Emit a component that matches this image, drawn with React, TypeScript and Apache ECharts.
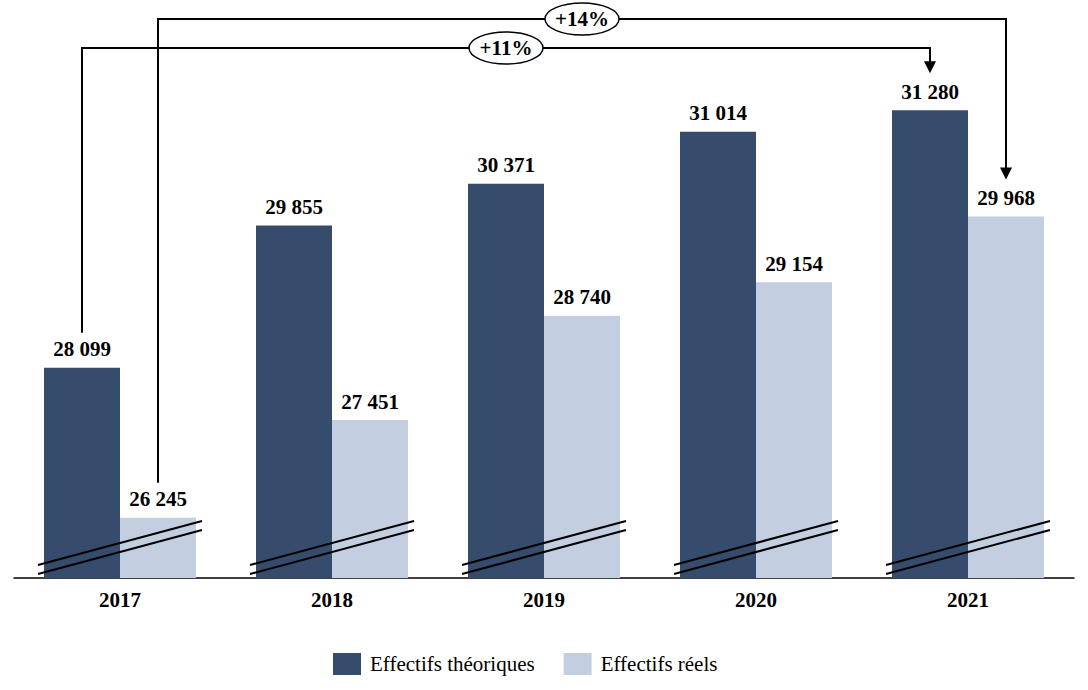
import React, { useEffect, useRef } from "react";
import * as echarts from "echarts";

const years = ["2017", "2018", "2019", "2020", "2021"];
const theoretical = [28099, 29855, 30371, 31014, 31280];
const actual = [26245, 27451, 28740, 29154, 29968];
const seriesNames = ["Effectifs théoriques", "Effectifs réels"];
const growthLabels = ["+11%", "+14%"];

const DARK = "#364c6c";
const LIGHT = "#c3cee0";
const FONT = "'Liberation Serif', 'Times New Roman', serif";
const Y_MIN = 25500;
const Y_MAX = 32000;
const BAR_W = 76;

const fmt = (v: number) => {
  const s = String(Math.round(v));
  return s.replace(/\B(?=(\d{3})+(?!\d))/g, " ");
};

export default function App() {
  const ref = useRef<HTMLDivElement>(null);
  useEffect(() => {
    if (!ref.current) return;
    const chart = echarts.init(ref.current, undefined, { renderer: "svg" });
    const labelStyle = {
      show: true,
      position: "top" as const,
      distance: 8,
      fontFamily: FONT,
      fontWeight: "bold" as const,
      fontSize: 21,
      color: "#000",
      formatter: (p: any) => fmt(p.value),
    };
    chart.setOption({
      animation: false,
      backgroundColor: "#fff",
      grid: { left: 14, right: 14, top: 52, bottom: 112 },
      legend: {
        data: seriesNames,
        left: 328,
        top: 648,
        itemWidth: 28,
        itemHeight: 22,
        itemGap: 29,
        icon: "rect",
        textStyle: { fontFamily: FONT, fontSize: 21, color: "#000", padding: [0, 0, 0, 4] },
      },
      xAxis: {
        type: "category",
        data: years,
        axisTick: { show: false },
        axisLine: { lineStyle: { color: "#000", width: 1.5 } },
        axisLabel: {
          fontFamily: FONT,
          fontWeight: "bold",
          fontSize: 21,
          color: "#000",
          margin: 11,
        },
      },
      yAxis: {
        type: "value",
        min: Y_MIN,
        max: Y_MAX,
        show: false,
        splitLine: { show: false },
      },
      series: [
        {
          name: seriesNames[0],
          type: "bar",
          data: theoretical,
          barWidth: BAR_W,
          barGap: "0%",
          itemStyle: { color: DARK },
          label: labelStyle,
        },
        {
          name: seriesNames[1],
          type: "bar",
          data: actual,
          barWidth: BAR_W,
          barGap: "0%",
          itemStyle: { color: LIGHT },
          label: labelStyle,
        },
        {
          type: "custom",
          z: 10,
          silent: true,
          data: years.map((_, i) => [i, Y_MIN]),
          renderItem: (params: any, api: any) => {
            const pt = api.coord([api.value(0), api.value(1)]);
            const cx = pt[0];
            const by = pt[1];
            const mk = (dy1: number, dy2: number) => ({
              type: "line",
              shape: { x1: cx - 82, y1: by + dy1, x2: cx + 82, y2: by + dy2 },
              style: { stroke: "#000", lineWidth: 2 },
            });
            return { type: "group", children: [mk(-13, -57), mk(-4, -48)] };
          },
        },
      ],
    });

    // Growth annotations computed from axis coordinates
    const last = years.length - 1;
    const p = (idx: number, v: number) => chart.convertToPixel({ gridIndex: 0 }, [idx, v]) as number[];
    const arrows = [
      { from: p(0, theoretical[0]), to: p(last, theoretical[last]), off: -BAR_W / 2, y: 48, label: growthLabels[0] },
      { from: p(0, actual[0]), to: p(last, actual[last]), off: BAR_W / 2, y: 19, label: growthLabels[1] },
    ];
    const graphics: any[] = [];
    arrows.forEach((a) => {
      const x1 = a.from[0] + a.off;
      const y1 = a.from[1] - 35;
      const x2 = a.to[0] + a.off;
      const tip = a.to[1] - 37;
      graphics.push({
        type: "polyline",
        shape: { points: [[x1, y1], [x1, a.y], [x2, a.y], [x2, tip - 10]] },
        style: { stroke: "#000", lineWidth: 2, fill: null },
        z: 20,
      });
      graphics.push({
        type: "polygon",
        shape: { points: [[x2 - 6, tip - 12], [x2 + 6, tip - 12], [x2, tip]] },
        style: { fill: "#000" },
        z: 20,
      });
      const mx = (x1 + x2) / 2;
      graphics.push({
        type: "ellipse",
        shape: { cx: mx, cy: a.y, rx: 37, ry: 16 },
        style: { fill: "#fff", stroke: "#000", lineWidth: 1.5 },
        z: 21,
      });
      graphics.push({
        type: "text",
        x: mx,
        y: a.y,
        style: {
          text: a.label,
          fontFamily: FONT,
          fontWeight: "bold",
          fontSize: 21,
          fill: "#000",
          align: "center",
          verticalAlign: "middle",
        },
        z: 22,
      });
    });
    chart.setOption({ graphic: graphics });

    return () => chart.dispose();
  }, []);
  return (
    <div
      ref={ref}
      style={{ position: "absolute", left: 0, top: 0, width: 1088, height: 690 }}
    />
  );
}
